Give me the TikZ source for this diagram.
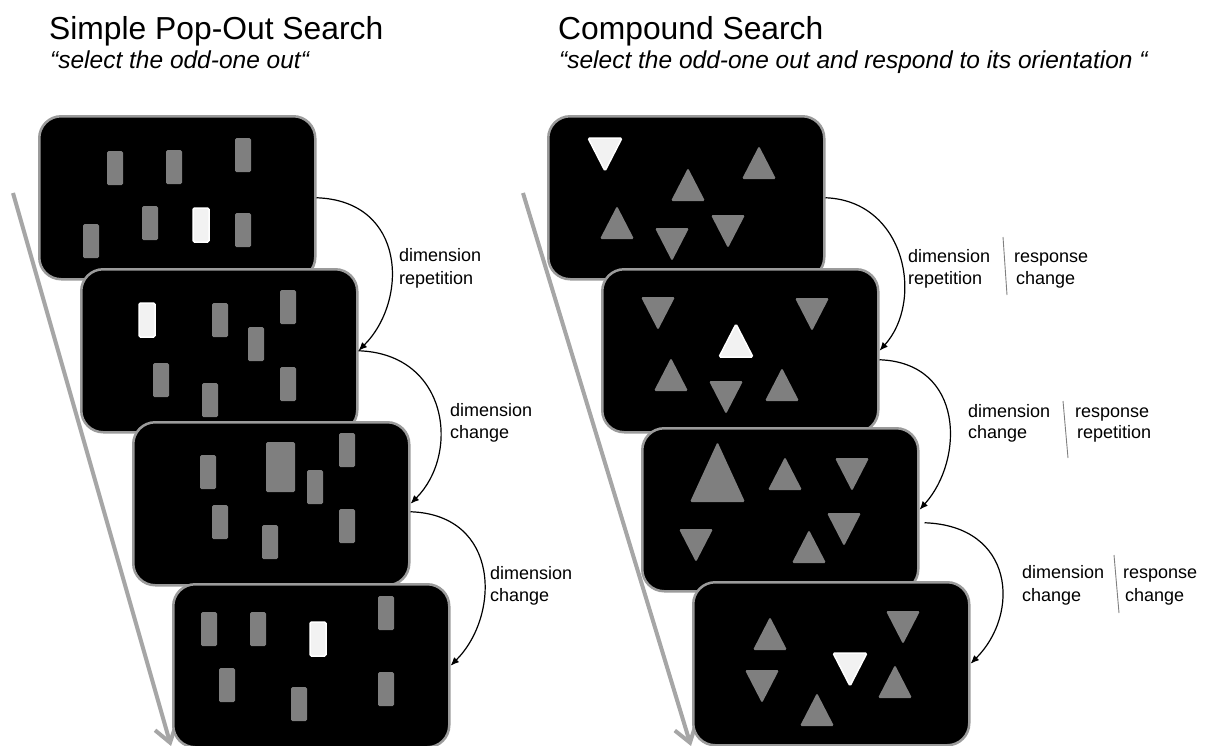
\documentclass[tikz,border=0pt]{standalone}
\usepackage{fontspec}
\setmainfont{Liberation Sans}
\usetikzlibrary{arrows.meta}
\definecolor{scrborder}{RGB}{155,155,155}
\definecolor{stimgray}{RGB}{127,127,127}
\definecolor{stimwhite}{RGB}{242,242,242}
\definecolor{tlgray}{RGB}{166,166,166}
\definecolor{divgray}{RGB}{128,128,128}
\newcommand\gb[2]{\path[gstim] (#1,#2) rectangle +(16,34);}
\newcommand\wb[2]{\path[wstim] (#1,#2) rectangle +(16,34);}
\newcommand\tu[3]{\path[#1] (#2,#3+33) -- (#2+17,#3) -- (#2+34,#3+33) -- cycle;}
\newcommand\td[3]{\path[#1] (#2,#3) -- (#2+34,#3) -- (#2+17,#3+33) -- cycle;}
\begin{document}
\begin{tikzpicture}[x=1pt,y=-1pt,
  screen/.style={draw=scrborder, line width=2.5pt, fill=black, rounded corners=22pt,
    minimum width=276pt, minimum height=163pt, inner sep=0pt, anchor=north west},
  gstim/.style={fill=stimgray, rounded corners=1.5pt},
  wstim/.style={fill=stimwhite, draw=white, line width=1.5pt, rounded corners=1.5pt},
  timeline/.style={draw=tlgray, line width=4pt, -{Straight Barb[length=16pt,width=22pt]}},
  conn/.style={draw=black, line width=1.2pt, -{Latex[length=8.5pt,width=7pt]}},
  divider/.style={draw=divgray, line width=0.9pt},
  title/.style={font=\fontsize{31.8}{36}\selectfont, anchor=base west, inner sep=0pt},
  subtitle/.style={font=\fontsize{24.5}{28}\selectfont\itshape, anchor=base west, inner sep=0pt},
  lbl/.style={font=\fontsize{18}{22}\selectfont, anchor=base west, inner sep=0pt}]
\useasboundingbox (0,0) rectangle (1207,745);

% titles
\node[title] (t1) at (49,39) {Simple Pop-Out Search};
\node[subtitle] (st1) at (50,68) {“select the odd-one out“};
\node[title] (t2) at (558,39) {Compound Search};
\node[subtitle] (st2) at (559,68) {“select the odd-one out and respond to its orientation “};

% timelines (behind screens)
\coordinate (tlA1) at (13,193);
\coordinate (tlA2) at (171,746);
\coordinate (tlB1) at (523,193);
\coordinate (tlB2) at (691,746);
\draw[timeline] (tlA1) -- (tlA2);
\draw[timeline] (tlB1) -- (tlB2);

% ---------- left column ----------
\node[screen] (L1) at (38,115) {};
\gb{107}{151}\gb{166}{150}\gb{235}{138}\gb{83}{224}\gb{142}{206}\gb{235}{213}\wb{193}{208}
\node[screen] (L2) at (80,268) {};
\wb{139}{303}\gb{212}{303}\gb{280}{290}\gb{248}{327}\gb{153}{363}\gb{280}{367}\gb{202}{383}
\node[screen] (L3) at (132,421) {};
\gb{200}{455}\path[gstim] (266,442) rectangle +(29,50);
\gb{339}{433}\gb{307}{470}\gb{212}{505}\gb{339}{509}\gb{262}{525}
\node[screen] (L4) at (172,583) {};
\gb{201}{612}\gb{250}{612}\wb{310}{622}\gb{378}{596}\gb{219}{668}\gb{291}{687}\gb{378}{672}

% ---------- right column ----------
\node[screen] (R1) at (547,115) {};
\td{wstim}{588}{138}\tu{gstim}{742}{146}\tu{gstim}{671}{168}\tu{gstim}{600}{206}
\td{gstim}{655}{228}\td{gstim}{711}{215}
\node[screen] (R2) at (601,268) {};
\td{gstim}{641}{297}\td{gstim}{795}{298}\tu{wstim}{719}{324}\tu{gstim}{654}{358}
\td{gstim}{709}{381}\tu{gstim}{765}{368}
\node[screen] (R3) at (641,427) {};
\path[gstim] (690,502) -- (717.5,442) -- (745,502) -- cycle;
\tu{gstim}{768}{457}\td{gstim}{835}{458}\td{gstim}{827}{513}\td{gstim}{679}{529}\tu{gstim}{792}{530}
\node[screen] (R4) at (692,581) {};
\tu{gstim}{753}{617}\td{gstim}{886}{611}\td{wstim}{833}{653}\td{gstim}{745}{670}
\tu{gstim}{878}{665}\tu{gstim}{800}{693}

% ---------- connectors ----------
\draw[conn] (L1.east) .. controls +(90,3) and +(50,-50) .. (L2.east);
\draw[conn] (L2.east) .. controls +(90,3) and +(50,-50) .. (L3.east);
\draw[conn] ([yshift=-8pt]L3.east) .. controls +(90,3) and +(50,-50) .. (L4.east);
\draw[conn] (R1.east) .. controls +(80,3) and +(45,-50) .. (R2.east);
\draw[conn] ([yshift=-9pt]R2.east) .. controls +(85,3) and +(45,-50) .. (R3.east);
\draw[conn] ([xshift=5pt,yshift=-13pt]R3.east) .. controls +(90,3) and +(50,-50) .. (R4.east);

% ---------- labels ----------
\node[lbl] (la1) at (399,261) {dimension};
\node[lbl] (lb1) at (399,284) {repetition};
\node[lbl] (la2) at (450,416) {dimension};
\node[lbl] (lb2) at (450,438) {change};
\node[lbl] (la3) at (490,579) {dimension};
\node[lbl] (lb3) at (490,601) {change};

\node[lbl] (ra1) at (908,262) {dimension};
\node[lbl] (rb1) at (908,284) {repetition};
\node[lbl] (rc1) at (1014,262) {response};
\node[lbl] (rd1) at (1016,284) {change};
\draw[divider] (1003,237) -- (1007,295);

\node[lbl] (ra2) at (968,417) {dimension};
\node[lbl] (rb2) at (968,438) {change};
\node[lbl] (rc2) at (1075,417) {response};
\node[lbl] (rd2) at (1077,438) {repetition};
\draw[divider] (1063,401) -- (1068,458);

\node[lbl] (ra3) at (1022,578) {dimension};
\node[lbl] (rb3) at (1022,601) {change};
\node[lbl] (rc3) at (1123,578) {response};
\node[lbl] (rd3) at (1125,601) {change};
\draw[divider] (1114,555) -- (1119,613);
\end{tikzpicture}
\end{document}
